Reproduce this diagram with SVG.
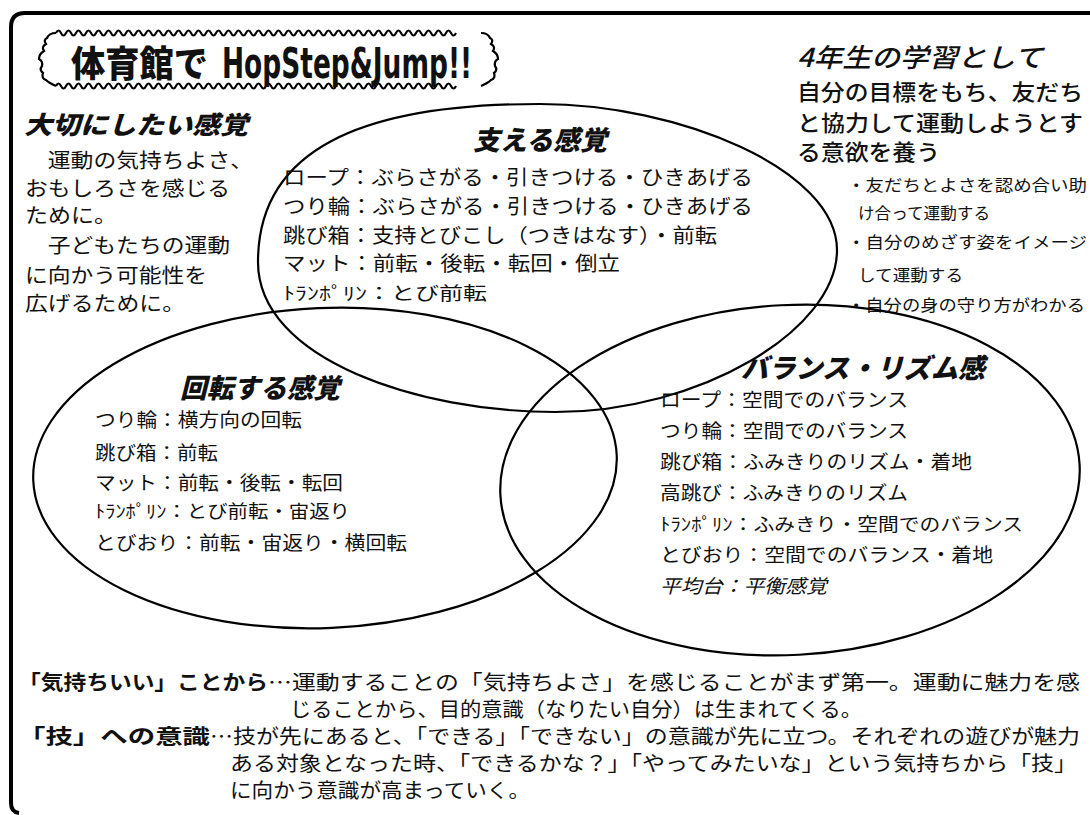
<svg xmlns="http://www.w3.org/2000/svg" width="1090" height="815" viewBox="0 0 1090 815">
<style>
.j{font-family:"Noto Sans CJK JP","Noto Sans CJK SC",sans-serif;fill:#111}
.h{font-weight:900;font-style:italic}
.r{font-weight:400}
.bd{font-weight:700}
.ln{fill:none;stroke:#000;stroke-width:2.2}
</style>
<rect width="1090" height="815" fill="#fff"/>
<path d="M1090 13 H25 Q11 13 11 27 V803 Q11 812 19 813" fill="none" stroke="#000" stroke-width="4"/>

<g id="title">
<path class="ln" d="M56 33 q2.5 -5 5 0 t5 0 t5 0 t5 0 t5 0 t5 0 t5 0 t5 0 t5 0 t5 0 t5 0 t5 0 t5 0 t5 0 t5 0 t5 0 t5 0 t5 0 t5 0 t5 0 t5 0 t5 0 t5 0 t5 0 t5 0 t5 0 t5 0 t5 0 t5 0 t5 0 t5 0 t5 0 t5 0 t5 0 t5 0 t5 0 t5 0 t5 0 t5 0 t5 0 t5 0 t5 0 t5 0 t5 0 t5 0 t5 0 t5 0 t5 0 t5 0 t5 0 t5 0 t5 0 t5 0 t5 0 t5 0 t5 0 t5 0 t5 0 t5 0 t5 0 t5 0 t5 0 t5 0 t5 0 t5 0 t5 0 t5 0 t5 0 t5 0 t5 0 t5 0 t5 0 t5 0 t5 0 t5 0 t5 0 t5 0 t5 0 t5 0 t5 0"/>
<path class="ln" d="M56 86 q2.5 -5 5 0 t5 0 t5 0 t5 0 t5 0 t5 0 t5 0 t5 0 t5 0 t5 0 t5 0 t5 0 t5 0 t5 0 t5 0 t5 0 t5 0 t5 0 t5 0 t5 0 t5 0 t5 0 t5 0 t5 0 t5 0 t5 0 t5 0 t5 0 t5 0 t5 0 t5 0 t5 0 t5 0 t5 0 t5 0 t5 0 t5 0 t5 0 t5 0 t5 0 t5 0 t5 0 t5 0 t5 0 t5 0 t5 0 t5 0 t5 0 t5 0 t5 0 t5 0 t5 0 t5 0 t5 0 t5 0 t5 0 t5 0 t5 0 t5 0 t5 0 t5 0 t5 0 t5 0 t5 0 t5 0 t5 0 t5 0 t5 0 t5 0 t5 0 t5 0 t5 0 t5 0 t5 0 t5 0 t5 0 t5 0 t5 0 t5 0 t5 0"/>
<path class="ln" stroke-width="2.6" d="M56 33 q-7 0 -9 5 q-4 2 -1 6 q-5 3 -2 7 q-5 3 -5 8 q4 2 3 7 q-3 4 1 7 q-2 5 3 7 q3 3 10 6"/>
<path class="ln" stroke-width="2.6" d="M481 33 q7 0 9 5 q4 2 1 6 q5 3 2 7 q5 3 5 8 q-4 2 -3 7 q3 4 -1 7 q2 5 -3 7 q-3 3 -10 6"/>
<text class="j" x="71" y="77" font-size="36" font-weight="900" textLength="137" lengthAdjust="spacingAndGlyphs">体育館で</text>
<text x="222" y="78" font-family="Liberation Sans Narrow, DejaVu Sans Condensed, sans-serif" font-weight="700" font-size="42" textLength="250" lengthAdjust="spacingAndGlyphs" fill="#111">HopStep&amp;Jump!!</text>
</g>

<g id="intro-left">
<text class="j h" x="24" y="134" font-size="25" textLength="224" lengthAdjust="spacingAndGlyphs">大切にしたい感覚</text>
<text class="j r" x="25" y="168" font-size="20" textLength="228" lengthAdjust="spacingAndGlyphs">　運動の気持ちよさ、</text>
<text class="j r" x="25" y="196" font-size="20" textLength="205" lengthAdjust="spacingAndGlyphs">おもしろさを感じる</text>
<text class="j r" x="25" y="223" font-size="20" textLength="92" lengthAdjust="spacingAndGlyphs">ために。</text>
<text class="j r" x="25" y="253" font-size="20" textLength="205" lengthAdjust="spacingAndGlyphs">　子どもたちの運動</text>
<text class="j r" x="25" y="283" font-size="20" textLength="182" lengthAdjust="spacingAndGlyphs">に向かう可能性を</text>
<text class="j r" x="25" y="311" font-size="20" textLength="160" lengthAdjust="spacingAndGlyphs">広げるために。</text>
</g>

<g id="intro-right">
<text class="j" x="797" y="67" font-size="26" font-style="italic" font-weight="500" textLength="246" lengthAdjust="spacingAndGlyphs">4年生の学習として</text>
<text class="j" x="797" y="100" font-size="22" font-weight="500" textLength="286" lengthAdjust="spacingAndGlyphs">自分の目標をもち、友だち</text>
<text class="j" x="797" y="131" font-size="22" font-weight="500" textLength="286" lengthAdjust="spacingAndGlyphs">と協力して運動しようとす</text>
<text class="j" x="797" y="160" font-size="22" font-weight="500" textLength="143" lengthAdjust="spacingAndGlyphs">る意欲を養う</text>
<text class="j r" x="847" y="191" font-size="16" textLength="240" lengthAdjust="spacingAndGlyphs">・友だちとよさを認め合い助</text>
<text class="j r" x="858" y="219" font-size="16" textLength="132" lengthAdjust="spacingAndGlyphs">け合って運動する</text>
<text class="j r" x="847" y="248" font-size="16" textLength="240" lengthAdjust="spacingAndGlyphs">・自分のめざす姿をイメージ</text>
<text class="j r" x="858" y="281" font-size="16" textLength="105" lengthAdjust="spacingAndGlyphs">して運動する</text>
<text class="j r" x="847" y="311" font-size="16" textLength="238" lengthAdjust="spacingAndGlyphs">・自分の身の守り方がわかる</text>
</g>

<g id="connectors">
<path class="ln" d="M258 262 C258 150 360 104 540 104 C680 104 837 170 837 250 C837 330 700 412 555 412 C420 412 258 360 258 262 Z"/>
<ellipse class="ln" cx="325" cy="468" rx="292" ry="160" transform="rotate(-2.5 325 468)"/>
<ellipse class="ln" cx="790" cy="480" rx="290" ry="175" transform="rotate(-3 790 480)"/>
</g>

<g id="node-sasaeru">
<text class="j h" x="473" y="150" font-size="27" textLength="134" lengthAdjust="spacingAndGlyphs">支える感覚</text>
<text class="j r" x="283" y="185" font-size="20" textLength="470" lengthAdjust="spacingAndGlyphs">ロープ：ぶらさがる・引きつける・ひきあげる</text>
<text class="j r" x="283" y="214" font-size="20" textLength="470" lengthAdjust="spacingAndGlyphs">つり輪：ぶらさがる・引きつける・ひきあげる</text>
<text class="j r" x="283" y="243" font-size="20" textLength="434" lengthAdjust="spacingAndGlyphs">跳び箱：支持とびこし（つきはなす）・前転</text>
<text class="j r" x="283" y="271" font-size="20" textLength="337" lengthAdjust="spacingAndGlyphs">マット：前転・後転・転回・倒立</text>
<text class="j r" x="283" y="300" font-size="18" textLength="204" lengthAdjust="spacingAndGlyphs">ﾄﾗﾝﾎﾟﾘﾝ：とび前転</text>
</g>

<g id="node-kaiten">
<text class="j h" x="180" y="398" font-size="27" textLength="160" lengthAdjust="spacingAndGlyphs">回転する感覚</text>
<text class="j r" x="95" y="427" font-size="19" textLength="207" lengthAdjust="spacingAndGlyphs">つり輪：横方向の回転</text>
<text class="j r" x="95" y="460" font-size="19" textLength="123" lengthAdjust="spacingAndGlyphs">跳び箱：前転</text>
<text class="j r" x="95" y="490" font-size="19" textLength="248" lengthAdjust="spacingAndGlyphs">マット：前転・後転・転回</text>
<text class="j r" x="95" y="518" font-size="18" textLength="255" lengthAdjust="spacingAndGlyphs">ﾄﾗﾝﾎﾟﾘﾝ：とび前転・宙返り</text>
<text class="j r" x="95" y="550" font-size="19" textLength="312" lengthAdjust="spacingAndGlyphs">とびおり：前転・宙返り・横回転</text>
</g>

<g id="node-balance">
<text class="j h" x="741" y="378" font-size="27" textLength="244" lengthAdjust="spacingAndGlyphs">バランス・リズム感</text>
<text class="j r" x="660" y="407" font-size="19" textLength="248" lengthAdjust="spacingAndGlyphs">ロープ：空間でのバランス</text>
<text class="j r" x="660" y="438" font-size="19" textLength="248" lengthAdjust="spacingAndGlyphs">つり輪：空間でのバランス</text>
<text class="j r" x="660" y="469" font-size="19" textLength="312" lengthAdjust="spacingAndGlyphs">跳び箱：ふみきりのリズム・着地</text>
<text class="j r" x="660" y="500" font-size="19" textLength="248" lengthAdjust="spacingAndGlyphs">高跳び：ふみきりのリズム</text>
<text class="j r" x="660" y="531" font-size="18" textLength="363" lengthAdjust="spacingAndGlyphs">ﾄﾗﾝﾎﾟﾘﾝ：ふみきり・空間でのバランス</text>
<text class="j r" x="660" y="562" font-size="19" textLength="333" lengthAdjust="spacingAndGlyphs">とびおり：空間でのバランス・着地</text>
<text class="j r" x="660" y="593" font-size="19" font-style="italic" textLength="167" lengthAdjust="spacingAndGlyphs">平均台：平衡感覚</text>
</g>

<g id="notes">
<text class="j bd" x="18" y="690" font-size="20" textLength="250" lengthAdjust="spacingAndGlyphs">「気持ちいい」ことから</text>
<text class="j r" x="268" y="690" font-size="20" textLength="812" lengthAdjust="spacingAndGlyphs">…運動することの「気持ちよさ」を感じることがまず第一。運動に魅力を感</text>
<text class="j r" x="290" y="717" font-size="20" textLength="572" lengthAdjust="spacingAndGlyphs">じることから、目的意識（なりたい自分）は生まれてくる。</text>
<text class="j bd" x="18" y="744" font-size="20" textLength="192" lengthAdjust="spacingAndGlyphs">「技」への意識</text>
<text class="j r" x="210" y="744" font-size="20" textLength="870" lengthAdjust="spacingAndGlyphs">…技が先にあると、「できる」「できない」の意識が先に立つ。それぞれの遊びが魅力</text>
<text class="j r" x="230" y="771" font-size="20" textLength="847" lengthAdjust="spacingAndGlyphs">ある対象となった時、「できるかな？」「やってみたいな」という気持ちから「技」</text>
<text class="j r" x="230" y="798" font-size="20" textLength="300" lengthAdjust="spacingAndGlyphs">に向かう意識が高まっていく。</text>
</g>
</svg>
